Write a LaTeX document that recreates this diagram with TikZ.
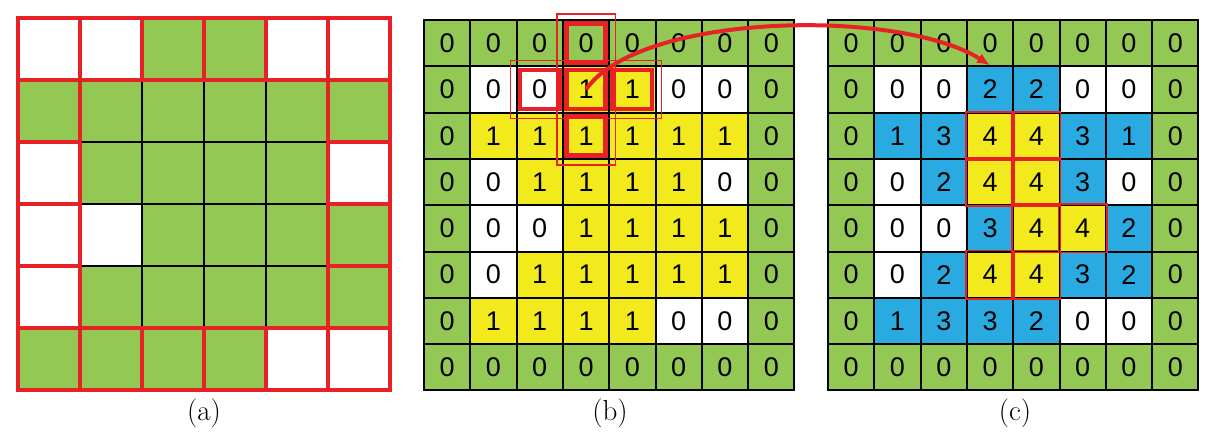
\documentclass[tikz,border=0pt]{standalone}
\usepackage{fontspec}
\usetikzlibrary{arrows.meta}
\newfontfamily\digfont{Liberation Sans}
\begin{document}
\begin{tikzpicture}[x=1pt,y=-1pt,
  G/.style={fill={rgb,255:red,146;green,200;blue,83}},
  W/.style={fill=white},
  Y/.style={fill={rgb,255:red,242;green,234;blue,28}},
  B/.style={fill={rgb,255:red,41;green,171;blue,226}},
  cellb/.style={draw=black,line width=2pt,minimum size=46.3pt,inner sep=0pt,font=\digfont\fontsize{27}{27}\selectfont},
  cella/.style={draw=black,line width=2pt,minimum size=62pt,inner sep=0pt},
  redc/.style={draw={rgb,255:red,232;green,33;blue,39}},
  lab/.style={font=\fontsize{29}{29}\selectfont}]
\useasboundingbox (0,0) rectangle (1221,442);
% (a)
\foreach \rowlist [count=\r from 0] in {{W,W,G,G,W,W},{G,G,G,G,G,G},{W,G,G,G,G,W},{W,W,G,G,G,G},{W,G,G,G,G,G},{G,G,G,G,W,W}}{
  \foreach \cl [count=\c from 0] in \rowlist {
    \node[cella,\cl] (a-\r-\c) at ({18+62*\c+31},{18+62*\r+31}) {};
  }}
\foreach \i in {0,...,6}{
  \draw[redc,line width=4pt] ({18+62*\i},18) -- ({18+62*\i},80);
  \draw[redc,line width=4pt] ({18+62*\i},328) -- ({18+62*\i},390);
  \draw[redc,line width=4pt] (18,{18+62*\i}) -- (80,{18+62*\i});
  \draw[redc,line width=4pt] (328,{18+62*\i}) -- (390,{18+62*\i});
}
\draw[redc,line width=4pt] (18,18) rectangle (390,390);
\draw[redc,line width=4pt] (18,80) -- (390,80) (18,328) -- (390,328) (80,18) -- (80,390) (328,18) -- (328,390);
\node[lab] (la) at (204,413) {(a)};
% (b)
\foreach \rowlist [count=\r from 0] in {
 {G/0,G/0,G/0,G/0,G/0,G/0,G/0,G/0},
 {G/0,W/0,W/0,Y/1,Y/1,W/0,W/0,G/0},
 {G/0,Y/1,Y/1,Y/1,Y/1,Y/1,Y/1,G/0},
 {G/0,W/0,Y/1,Y/1,Y/1,Y/1,W/0,G/0},
 {G/0,W/0,W/0,Y/1,Y/1,Y/1,Y/1,G/0},
 {G/0,W/0,Y/1,Y/1,Y/1,Y/1,Y/1,G/0},
 {G/0,Y/1,Y/1,Y/1,Y/1,W/0,W/0,G/0},
 {G/0,G/0,G/0,G/0,G/0,G/0,G/0,G/0}}{
  \foreach \cl/\v [count=\c from 0] in \rowlist {
    \node[cellb,\cl] (b-\r-\c) at ({424+46.3*\c+23.15},{20+46.3*\r+23.15}) {\v};
  }}
\foreach \n in {b-0-3,b-1-2,b-1-3,b-1-4,b-2-3}{
  \draw[redc,line width=4.5pt] ([shift={(4.5,4.5)}]\n.north west) rectangle ([shift={(-4.5,-4.5)}]\n.south east);
}
\draw[redc,line width=1.3pt] ([shift={(-5,-5)}]b-0-3.north west) rectangle ([shift={(5,5)}]b-2-3.south east);
\draw[redc,line width=1.3pt] ([shift={(-5,-5)}]b-1-2.north west) rectangle ([shift={(5,5)}]b-1-4.south east);
\node[lab] (lb) at (610,413) {(b)};
% (c)
\foreach \rowlist [count=\r from 0] in {
 {G/0,G/0,G/0,G/0,G/0,G/0,G/0,G/0},
 {G/0,W/0,W/0,B/2,B/2,W/0,W/0,G/0},
 {G/0,B/1,B/3,Y/4,Y/4,B/3,B/1,G/0},
 {G/0,W/0,B/2,Y/4,Y/4,B/3,W/0,G/0},
 {G/0,W/0,W/0,B/3,Y/4,Y/4,B/2,G/0},
 {G/0,W/0,B/2,Y/4,Y/4,B/3,B/2,G/0},
 {G/0,B/1,B/3,B/3,B/2,W/0,W/0,G/0},
 {G/0,G/0,G/0,G/0,G/0,G/0,G/0,G/0}}{
  \foreach \cl/\v [count=\c from 0] in \rowlist {
    \node[cellb,\cl] (c-\r-\c) at ({828+46.3*\c+23.15},{20+46.3*\r+23.15}) {\v};
  }}
\foreach \n in {c-2-3,c-2-4,c-3-3,c-3-4,c-4-4,c-4-5,c-5-3,c-5-4}{
  \draw[redc,line width=1.8pt] (\n.north west) rectangle (\n.south east);
}
\node[lab] (lc) at (1015,413) {(c)};
% arrow
\draw[redc,line width=4pt,-{Latex[length=13pt,width=11pt]}] (b-1-3.center) .. controls (640,12) and (900,8) .. (c-1-3.north);
\end{tikzpicture}
\end{document}
